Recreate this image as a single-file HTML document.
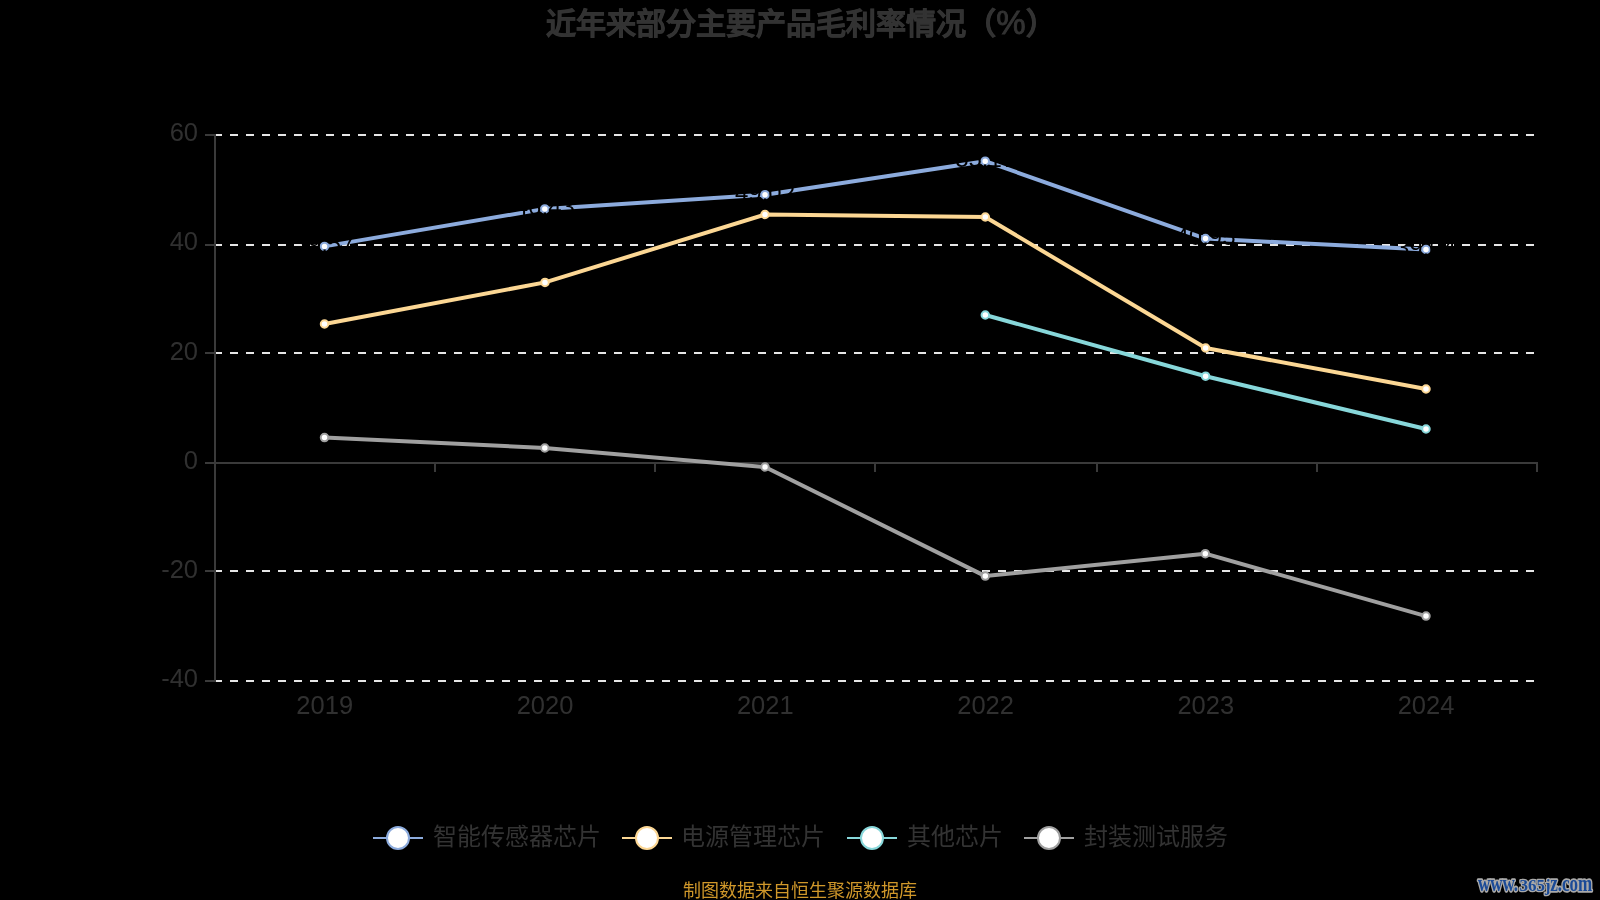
<!DOCTYPE html>
<html lang="zh-CN">
<head>
<meta charset="utf-8">
<title>近年来部分主要产品毛利率情况（%）</title>
<style>
html,body{margin:0;padding:0;background:#000;}
body{width:1600px;height:900px;overflow:hidden;position:relative;font-family:"Liberation Sans",sans-serif;}
svg{will-change:transform;position:absolute;left:0;top:0;display:block;}
svg text{font-family:"Liberation Sans",sans-serif;}
.title{font-size:30px;font-weight:bold;fill:#333;stroke:#333;stroke-width:0.7px;}
.pc{font-size:33px;font-weight:normal;stroke-width:0.9px;}
.ax{font-size:25.5px;fill:#303030;}
.lg{font-size:24px;fill:#333;}
.dl{font-size:24px;fill:#000;}
.ft{font-size:18px;fill:#cf972a;}
svg .wm text{font-family:"Liberation Serif",serif;font-size:17px;font-weight:bold;fill:#1a4a97;stroke:#a9a9a9;stroke-width:2.6px;paint-order:stroke fill;stroke-linejoin:round;}
</style>
</head>
<body>
<svg width="1600" height="900" viewBox="0 0 1600 900">
<rect x="0" y="0" width="1600" height="900" fill="#000"/>

<!-- title -->
<text class="title" x="801" y="33.7" text-anchor="middle">近年来部分主要产品毛利率情况（<tspan class="pc">%</tspan>）</text>

<!-- split lines -->
<g stroke="#e6e6e6" stroke-width="2" stroke-dasharray="8 8" fill="none">
<line x1="214" y1="135" x2="1537" y2="135"/>
<line x1="214" y1="245" x2="1537" y2="245"/>
<line x1="214" y1="353" x2="1537" y2="353"/>
<line x1="214" y1="571" x2="1537" y2="571"/>
<line x1="214" y1="681" x2="1537" y2="681"/>
</g>

<!-- axes -->
<g stroke="#3a3a3a" stroke-width="2" fill="none">
<line x1="215" y1="134" x2="215" y2="682"/>
<line x1="214" y1="463" x2="1538" y2="463"/>
<!-- y ticks -->
<line x1="205" y1="135" x2="215" y2="135"/>
<line x1="205" y1="245" x2="215" y2="245"/>
<line x1="205" y1="353" x2="215" y2="353"/>
<line x1="205" y1="463" x2="215" y2="463"/>
<line x1="205" y1="571" x2="215" y2="571"/>
<line x1="205" y1="681" x2="215" y2="681"/>
<!-- x ticks -->
<line x1="435" y1="463" x2="435" y2="472"/>
<line x1="655" y1="463" x2="655" y2="472"/>
<line x1="875" y1="463" x2="875" y2="472"/>
<line x1="1097" y1="463" x2="1097" y2="472"/>
<line x1="1317" y1="463" x2="1317" y2="472"/>
<line x1="1537" y1="463" x2="1537" y2="472"/>
</g>

<!-- y labels -->
<g class="ax" text-anchor="end">
<text transform="translate(198,141)">60</text>
<text transform="translate(198,250.3)">40</text>
<text transform="translate(198,359.5)">20</text>
<text transform="translate(198,468.6)">0</text>
<text transform="translate(198,577.8)">-20</text>
<text transform="translate(198,686.5)">-40</text>
</g>

<!-- x labels -->
<g class="ax" text-anchor="middle">
<text transform="translate(324.7,714)">2019</text>
<text transform="translate(545,714)">2020</text>
<text transform="translate(765.3,714)">2021</text>
<text transform="translate(985.6,714)">2022</text>
<text transform="translate(1205.8,714)">2023</text>
<text transform="translate(1426,714)">2024</text>
</g>

<!-- series lines -->
<g fill="none" stroke-width="4" stroke-linejoin="bevel" stroke-linecap="butt">
<polyline stroke="#8cabdd" points="324.5,246.4 544.8,208.9 765,194.7 985.2,161.2 1205.5,238.6 1426,249.5"/>
<polyline stroke="#fcd794" points="324.5,324 545,282.4 765,214.5 985.3,217 1205.6,348 1426,389"/>
<polyline stroke="#87d7da" points="985.3,315 1205.6,376.2 1426,429"/>
<polyline stroke="#a0a0a0" points="324.5,437.6 544.8,448 765,467 985.3,576.1 1205.3,553.7 1426,616.1"/>
</g>

<!-- symbols -->
<g fill="#fff" stroke-width="2">
<g stroke="#8cabdd">
<circle cx="324.5" cy="246.4" r="3.75"/><circle cx="544.8" cy="208.9" r="3.75"/><circle cx="765" cy="194.7" r="3.75"/><circle cx="985.2" cy="161.2" r="3.75"/><circle cx="1205.5" cy="238.6" r="3.75"/><circle cx="1426" cy="249.5" r="3.75"/>
</g>
<g stroke="#fcd794">
<circle cx="324.5" cy="324" r="3.75"/><circle cx="545" cy="282.4" r="3.75"/><circle cx="765" cy="214.5" r="3.75"/><circle cx="985.3" cy="217" r="3.75"/><circle cx="1205.6" cy="348" r="3.75"/><circle cx="1426" cy="389" r="3.75"/>
</g>
<g stroke="#87d7da">
<circle cx="985.3" cy="315" r="3.75"/><circle cx="1205.6" cy="376.2" r="3.75"/><circle cx="1426" cy="429" r="3.75"/>
</g>
<g stroke="#a0a0a0">
<circle cx="324.5" cy="437.6" r="3.75"/><circle cx="544.8" cy="448" r="3.75"/><circle cx="765" cy="467" r="3.75"/><circle cx="985.3" cy="576.1" r="3.75"/><circle cx="1205.3" cy="553.7" r="3.75"/><circle cx="1426" cy="616.1" r="3.75"/>
</g>
</g>

<!-- data labels (black on black) -->
<g class="dl" text-anchor="middle">
<text x="324.5" y="252">39.57</text>
<text x="544.8" y="214.5">46.43</text>
<text x="765" y="200.5">49.02</text>
<text x="985.2" y="167">55.17</text>
<text x="1205.5" y="244.5">40.95</text>
<text x="1426" y="255.5">39.04</text>
</g>

<!-- legend -->
<g stroke-width="2" fill="#fff">
<g stroke="#8cabdd"><line x1="373" y1="838" x2="423" y2="838"/><circle cx="398" cy="838" r="11"/></g>
<g stroke="#fcd794"><line x1="622" y1="838" x2="672" y2="838"/><circle cx="647" cy="838" r="11"/></g>
<g stroke="#87d7da"><line x1="847" y1="838" x2="897" y2="838"/><circle cx="872" cy="838" r="11"/></g>
<g stroke="#a0a0a0"><line x1="1024" y1="838" x2="1074" y2="838"/><circle cx="1049" cy="838" r="11"/></g>
</g>
<g class="lg">
<text x="433" y="844.5">智能传感器芯片</text>
<text x="680.5" y="844.5">电源管理芯片</text>
<text x="907" y="844.5">其他芯片</text>
<text x="1084" y="844.5">封装测试服务</text>
</g>

<!-- footer -->
<text class="ft" x="800" y="896.6" text-anchor="middle">制图数据来自恒生聚源数据库</text>
<g class="wm"><text transform="translate(1478,890.5) scale(1,1.3)">www.</text><text x="1519.5" y="890.5">365j</text><text transform="translate(1550.2,890.5) scale(1,1.3)">z.com</text></g>
</svg>
</body>
</html>
